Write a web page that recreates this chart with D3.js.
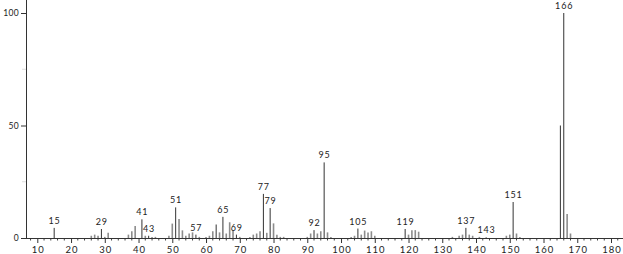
<!DOCTYPE html>
<html><head><meta charset="utf-8">
<script src="https://cdn.jsdelivr.net/npm/d3@7/dist/d3.min.js"></script>
<style>
html,body{margin:0;padding:0;background:#fff;}
svg{display:block;}
text{font-family:Lato,"DejaVu Sans",sans-serif;fill:#222;}
</style></head>
<body>
<script>
// m/z values and relative intensities
const mz = [15,26,27,28,29,30,31,37,38,39,41,42,43,44,45,49,50,51,52,53,54,55,56,57,58,
  60,61,62,63,64,65,66,67,68,69,70,73,74,75,76,77,78,79,80,81,82,83,
  90,91,92,93,94,95,96,97,103,104,105,106,107,108,109,110,
  119,120,121,122,123,133,135,136,137,138,139,141,143,149,150,151,152,153,165,166,167,168];
const intensity = [4.5,1,1.5,1,4,0.5,2.3,1.5,3,5.3,8.3,1,1,0.5,0.5,1,6.4,13.6,8.4,3.4,1,2,2.5,1.5,0.5,
  0.5,1,3,6,2.5,9.4,2,7,3.5,1.5,0.5,0.5,1.5,2,3,19.6,2.3,13.3,6.5,1.5,0.5,0.5,
  0.5,2,3.5,2,3,33.6,2.5,0.5,0.5,1,4.2,1.5,3.3,2.5,3,1,
  4,1.5,3.5,3.5,2.8,0.5,1,1.5,4.5,1.5,1,0.5,0.3,1,1.5,16,2,0.5,50,100,10.7,2];
const labeled = [15,29,41,43,51,57,65,69,77,79,92,95,105,119,137,143,151,166];
const darkPeaks = [63,165];
const xTicks = [10,20,30,40,50,60,70,80,90,100,110,120,130,140,150,160,170,180];
const yTicks = [0,50,100];

const W = 623, H = 254;
const svg = d3.select("body").append("svg").attr("width", W).attr("height", H);

const x = d3.scaleLinear().domain([10, 180]).range([37.3, 611]);
const y = d3.scaleLinear().domain([0, 100]).range([238, 13]);
const x0 = 26, xEnd = 623, y0 = y(0);

// minor x ticks every 2 units
const minor = d3.range(8, 183, 2).filter(v => v % 10 !== 0);
svg.append("g").selectAll("line").data(minor).join("line")
  .attr("x1", d => x(d)).attr("x2", d => x(d))
  .attr("y1", y0).attr("y2", y0 + 2.5)
  .attr("stroke", "#444").attr("stroke-width", 1);

// x axis
const xa = svg.append("g").attr("transform", `translate(0,${y0})`)
  .call(d3.axisBottom(x).tickValues(xTicks).tickSize(5).tickPadding(3).tickFormat(d3.format("d")));
xa.select(".domain").remove();
xa.selectAll("line").attr("stroke", "#333");
xa.selectAll("text").attr("font-size", 9.5).attr("letter-spacing", 1).attr("fill", "#222")
  .attr("dx", 0.5);
svg.append("line").attr("x1", x0).attr("x2", xEnd).attr("y1", y0 + 0.5).attr("y2", y0 + 0.5)
  .attr("stroke", "#333").attr("stroke-width", 1);

// y axis
const ya = svg.append("g").attr("transform", `translate(${x0},0)`)
  .call(d3.axisLeft(y).tickValues(yTicks).tickSize(5).tickPadding(2).tickFormat(d3.format("d")));
ya.select(".domain").remove();
ya.selectAll("line").attr("stroke", "#333");
ya.selectAll("text").attr("font-size", 8.5).attr("letter-spacing", 0.3).attr("fill", "#222");
svg.append("g").selectAll("line").data([25, 75]).join("line")
  .attr("x1", x0 - 4).attr("x2", x0).attr("y1", d => y(d)).attr("y2", d => y(d))
  .attr("stroke", "#ddd");
svg.append("line").attr("x1", x0 + 0.5).attr("x2", x0 + 0.5).attr("y1", 0).attr("y2", y0 + 1)
  .attr("stroke", "#333").attr("stroke-width", 1);

// peaks
const data = mz.map((m, i) => ({m, v: intensity[i]}));
const isDark = d => labeled.includes(d.m) || darkPeaks.includes(d.m);
svg.append("g").selectAll("line").data(data).join("line")
  .attr("x1", d => x(d.m)).attr("x2", d => x(d.m))
  .attr("y1", y0).attr("y2", d => y(d.v))
  .attr("stroke", d => isDark(d) ? "#333" : "#8c8c8c")
  .attr("stroke-width", d => isDark(d) ? 1 : 1.6);

// peak labels
svg.append("g").selectAll("text").data(data.filter(d => labeled.includes(d.m))).join("text")
  .attr("x", d => x(d.m) + 0.4).attr("y", d => y(d.v) - 4)
  .attr("text-anchor", "middle").attr("font-size", 9).attr("letter-spacing", 0.8)
  .text(d => d.m);
</script>
</body></html>
